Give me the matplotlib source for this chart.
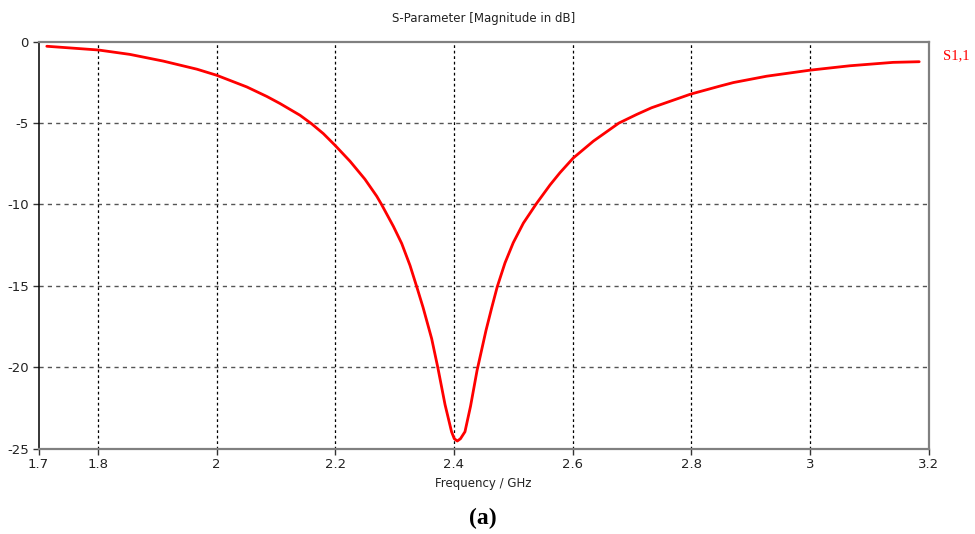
import matplotlib
matplotlib.use("Agg")
import matplotlib.pyplot as plt

freq_ghz = [1.714, 1.801, 1.854, 1.910, 1.967, 2.000, 2.051, 2.085, 2.107, 2.1406,
            2.160, 2.180, 2.200, 2.225, 2.250, 2.270, 2.278, 2.298, 2.312, 2.326,
            2.337, 2.348, 2.3625, 2.373, 2.385, 2.396, 2.4006, 2.4057, 2.411, 2.4186,
            2.428, 2.439, 2.454, 2.4636, 2.473, 2.486, 2.500, 2.517, 2.539, 2.562,
            2.5787, 2.601, 2.635, 2.678, 2.708, 2.733, 2.799, 2.848, 2.871, 2.927,
            3.000, 3.067, 3.140, 3.184]
s11_db = [-0.28, -0.51, -0.78, -1.19, -1.69, -2.06, -2.78, -3.37, -3.80, -4.52,
          -5.04, -5.65, -6.38, -7.35, -8.45, -9.50, -10.0, -11.35, -12.4, -13.75,
          -15.02, -16.33, -18.25, -20.05, -22.3, -23.97, -24.4, -24.54, -24.4, -23.97,
          -22.4, -20.2, -17.75, -16.36, -15.06, -13.6, -12.35, -11.15, -9.95, -8.8,
          -8.05, -7.15, -6.11, -5.0, -4.47, -4.06, -3.22, -2.73, -2.51, -2.12,
          -1.75, -1.48, -1.27, -1.23]

x_ticks = [1.7, 1.8, 2.0, 2.2, 2.4, 2.6, 2.8, 3.0, 3.2]
x_tick_labels = ["1.7", "1.8", "2", "2.2", "2.4", "2.6", "2.8", "3", "3.2"]
y_ticks = [0, -5, -10, -15, -20, -25]
y_tick_labels = ["0", "-5", "-10", "-15", "-20", "-25"]

fig = plt.figure(figsize=(9.75, 5.34), dpi=100)
ax = fig.add_axes([38.5/975, 1-448.5/534, (928.7-38.5)/975, (448.5-41.7)/534])

ax.plot(freq_ghz, s11_db, color="#ff0000", lw=2.0, solid_joinstyle="round",
        solid_capstyle="round", zorder=3)

ax.set_xlim(1.7, 3.2)
ax.set_ylim(-25, 0)
ax.set_xticks(x_ticks)
ax.set_xticklabels(x_tick_labels)
ax.set_yticks(y_ticks)
ax.set_yticklabels(y_tick_labels)

for v in x_ticks[1:-1]:
    ax.axvline(v, color="#000000", lw=0.9, ls=(0, (2.2, 2.2)), zorder=1)
for v in y_ticks[1:-1]:
    ax.axhline(v, color="#555555", lw=1.0, ls=(0, (3, 3)), zorder=1)

for side in ["top", "right", "bottom"]:
    ax.spines[side].set_color("#808080")
    ax.spines[side].set_linewidth(1.6)
ax.spines["left"].set_color("#000000")
ax.spines["left"].set_linewidth(1.1)

ax.tick_params(axis="both", direction="out", length=4, width=1, color="#333333",
               labelsize=9.5, labelcolor="#222222", pad=3)

ax.set_title("S-Parameter [Magnitude in dB]", fontsize=8.5, color="#222222", pad=14)
ax.set_xlabel("Frequency / GHz", fontsize=8.5, color="#222222", labelpad=4)

fig.text(943/975, 1-56/534, "S1,1", color="#ff0000", fontsize=10.5,
         family="Liberation Serif", ha="left", va="center")
fig.text(483/975, 1-518/534, "(a)", color="#000000", fontsize=17, fontweight="bold",
         family="Liberation Serif", ha="center", va="center")

fig.savefig("out.png", dpi=100)
